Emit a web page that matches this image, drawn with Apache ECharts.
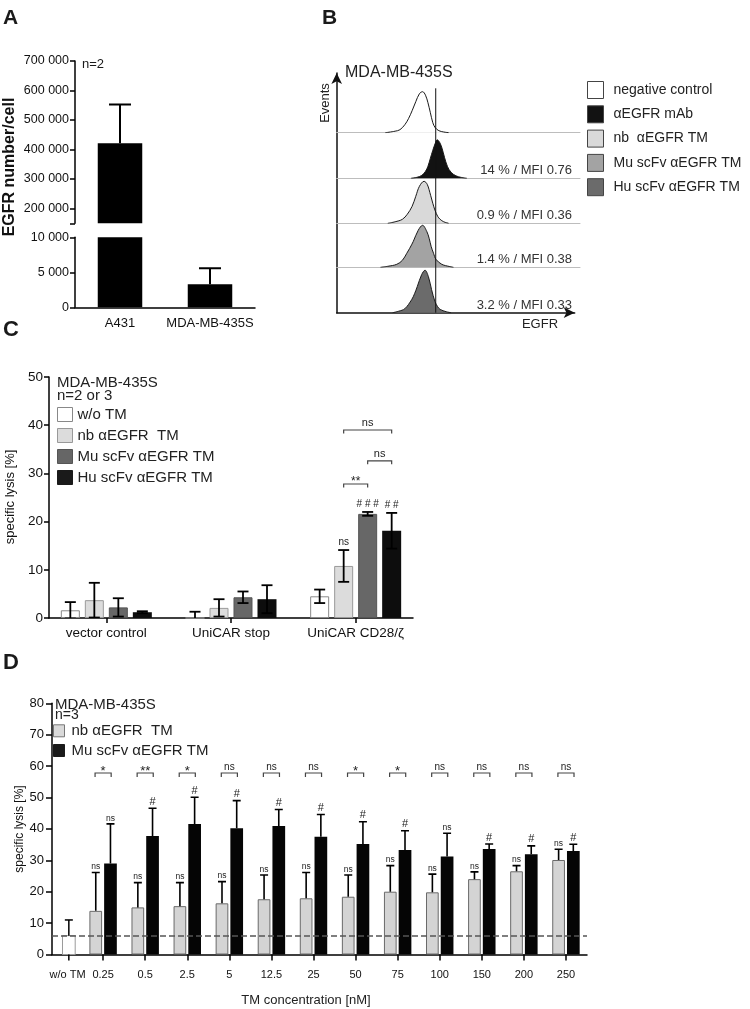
<!DOCTYPE html>
<html><head><meta charset="utf-8">
<script src="https://cdn.jsdelivr.net/npm/echarts@6/dist/echarts.min.js"></script>
<style>html,body{margin:0;padding:0;background:#fff}#c{width:750px;height:1009px}</style>
</head><body><div id="c"></div>
<script>
// ---------------- Panel A data ----------------
const aCells = ['A431', 'MDA-MB-435S'];
const aMean = [421000, 3290];
const aSD = [131500, 2280];
const aUpperTicks = [200000, 300000, 400000, 500000, 600000, 700000];

// ---------------- Panel B data ----------------
const bNames = ['negative control', 'αEGFR mAb', 'nb  αEGFR TM', 'Mu scFv αEGFR TM', 'Hu scFv αEGFR TM'];
const bNeg = [[20,0],[24,1.5],[26,3],[28,8],[29.5,14],[31,22],[32.5,31],[34,39],[35.3,41],[36.5,37.5],[37.5,30],[38.5,20],[39.5,10],[40.5,5],[42,2],[44,0.7],[46,0]];
const bMab = [[30.5,0],[33,1],[35,3],[36.5,7],[37.5,12],[38.5,20],[39.5,28],[40.5,35],[41.3,38.5],[42.3,36],[43.3,30],[44.3,21],[45.5,12],[47,6],[49,2.5],[51,1],[53.5,0]];
const bNb = [[21,0],[24,1.5],[27,4],[29,9],[31,17],[32.5,27],[34,37],[35.9,42],[37.2,39],[38.6,28],[39.5,20],[40.4,13],[41.5,7],[42.5,4],[44,1.5],[46,0]];
const bMu = [[18,0],[21,1],[24.7,3],[27,7],[28.8,14],[30,19],[31.5,26],[33.5,37],[35.3,42],[37,36],[38,29],[38.8,21],[39.8,14],[40.8,8],[43.2,3],[46.5,0.7],[48,0]];
const bHu = [[23,0],[25.5,1.5],[28,4],[30.8,13],[32,19],[33.1,26],[34.9,38],[36.3,42.5],[37.7,36],[39,23],[40.4,11],[41.5,6],[42.5,3.3],[45,1],[47,0]];
const bStats = ['', '14 % / MFI 0.76', '0.9 % / MFI 0.36', '1.4 % / MFI 0.38', '3.2 % / MFI 0.33'];
const bGate = 40.7;

// ---------------- Panel C data ----------------
const cGroups = ['vector control', 'UniCAR stop', 'UniCAR CD28/ζ'];
const cNames = ['w/o TM', 'nb αEGFR  TM', 'Mu scFv αEGFR TM', 'Hu scFv αEGFR TM'];
const cWo = [1.6, 0, 4.5];      const cWoSD = [1.7, 1.3, 1.4];
const cNbV = [3.7, 2.1, 10.8];  const cNbSD = [3.6, 1.8, 3.3];
const cMuV = [2.2, 4.3, 21.6];  const cMuSD = [1.9, 1.2, 0.4];
const cHuV = [1.2, 3.9, 18.1];  const cHuSD = [0.2, 2.9, 3.7];
const cMarks = [[2, 1, 'ns'], [2, 2, '###'], [2, 3, '##']];
const cBrackets = [[2, 1, 2, 27.8, '**'], [2, 2, 3, 32.6, 'ns'], [2, 1, 3, 39.0, 'ns']];

// ---------------- Panel D data ----------------
const dConc = ['w/o TM', '0.25', '0.5', '2.5', '5', '12.5', '25', '50', '75', '100', '150', '200', '250'];
const dWo = [6.0];   const dWoSD = [5.0];
const dNbV = [null, 13.9, 15.0, 15.4, 16.3, 17.6, 17.9, 18.4, 20.0, 19.8, 24.0, 26.5, 30.1];
const dNbSD = [null, 12.2, 7.9, 7.5, 6.9, 7.7, 8.2, 6.9, 8.3, 5.8, 2.3, 1.8, 3.4];
const dMuV = [null, 29.0, 37.7, 41.6, 40.2, 40.9, 37.5, 35.2, 33.3, 31.2, 33.6, 31.9, 33.0];
const dMuSD = [null, 12.6, 8.9, 8.5, 8.8, 5.3, 7.1, 7.1, 6.1, 7.4, 1.6, 2.7, 2.1];
const dNbMarks = ['', 'ns', 'ns', 'ns', 'ns', 'ns', 'ns', 'ns', 'ns', 'ns', 'ns', 'ns', 'ns'];
const dMuMarks = ['', 'ns', '#', '#', '#', '#', '#', '#', '#', 'ns', '#', '#', '#'];
const dPairSig = ['', '*', '**', '*', 'ns', 'ns', 'ns', '*', '*', 'ns', 'ns', 'ns', 'ns'];
const dBracketLevel = 57.8;

// ---------------- helpers ----------------
const FONT = '"Liberation Sans", Arial, Helvetica, sans-serif';
const F = (s, w) => (w ? w + ' ' : '') + s + 'px ' + FONT;
const grids = [], xAxes = [], yAxes = [], series = [], graphics = [];
function addGrid(g, x, y) {
  grids.push(g); const i = grids.length - 1;
  xAxes.push(Object.assign({ gridIndex: i }, x));
  yAxes.push(Object.assign({ gridIndex: i }, y));
  return i;
}
const hiddenVal = (min, max) => ({ type: 'value', min, max, show: false, splitLine: { show: false } });
const hiddenCat = data => ({ type: 'category', data, show: false });
const AX = { color: '#000', width: 1.5 };
const fmtSp = v => String(v).replace(/\B(?=(\d{3})+(?!\d))/g, ' ');
function txt(text, x, y, font, align, valign, rot, fill) {
  graphics.push({ type: 'text', x, y, rotation: rot || 0, silent: true,
    style: { text, font, fill: fill || '#1a1a1a', align: align || 'left', textAlign: align || 'left',
             verticalAlign: valign || 'middle', textVerticalAlign: valign || 'middle' } });
}
function errBar(opt) {
  return function (params, api) {
    const cat = api.value(0), m = api.value(1), sd = api.value(2);
    const pm = api.coord([cat, m]), pt = api.coord([cat, m + sd]), pb = api.coord([cat, m - sd]);
    const x = pm[0] + (opt.offset || 0);
    const st = { stroke: '#000', lineWidth: opt.lw };
    const ch = [
      { type: 'line', shape: { x1: x, y1: pt[1], x2: x, y2: opt.upperOnly ? pm[1] : pb[1] }, style: st },
      { type: 'line', shape: { x1: x - opt.half, y1: pt[1], x2: x + opt.half, y2: pt[1] }, style: st }
    ];
    if (!opt.upperOnly) ch.push({ type: 'line', shape: { x1: x - opt.half, y1: pb[1], x2: x + opt.half, y2: pb[1] }, style: st });
    return { type: 'group', children: ch };
  };
}
function markText(list, slotOff, fontFn, gap) {
  return function (params, api) {
    const it = list[params.dataIndex];
    const p = api.coord([it.cat, it.top]);
    const isStar = it.text.indexOf('*') >= 0;
    const fs = fontFn(it.text);
    return { type: 'text', x: p[0] + slotOff(it.slot), y: p[1] - gap + (isStar ? fs * 0.42 : 0),
      style: { text: it.text.indexOf('#') >= 0 ? it.text.split('').join(' ') : it.text, font: F(fs), fill: '#222',
               align: 'center', textAlign: 'center', verticalAlign: 'bottom', textVerticalAlign: 'bottom' } };
  };
}
function bracketRender(list, slotOff, fontFn, tick, gap, extend) {
  return function (params, api) {
    const b = list[params.dataIndex];
    const p = api.coord([b.cat, b.level]);
    const x1 = p[0] + slotOff(b.from) - extend, x2 = p[0] + slotOff(b.to) + extend, y = p[1];
    const fs = fontFn(b.text);
    const isStar = b.text.indexOf('*') >= 0;
    return { type: 'group', children: [
      { type: 'polyline', shape: { points: [[x1, y + tick], [x1, y], [x2, y], [x2, y + tick]] }, style: { stroke: '#444', lineWidth: 1.2, fill: 'none' } },
      { type: 'text', x: (x1 + x2) / 2, y: y - gap + (isStar ? fs * 0.42 : 0),
        style: { text: b.text, font: F(fs), fill: '#222', align: 'center', textAlign: 'center', verticalAlign: 'bottom', textVerticalAlign: 'bottom' } }
    ] };
  };
}

// ================= Panel A =================
const aTop = addGrid({ left: 75, top: 61, width: 180, height: 162.3 },
  hiddenCat(aCells),
  { type: 'value', min: 150000, max: 700000,
    axisLine: { show: true, lineStyle: AX },
    axisTick: { show: true, length: 5, customValues: [150000].concat(aUpperTicks), lineStyle: AX },
    axisLabel: { customValues: aUpperTicks, formatter: fmtSp, fontSize: 12.5, color: '#111', margin: 6, fontFamily: FONT },
    splitLine: { show: false } });
const aBot = addGrid({ left: 75, top: 237.3, width: 180, height: 70 },
  { type: 'category', data: aCells, axisLine: { lineStyle: AX },
    axisTick: { alignWithLabel: true, length: 6, lineStyle: AX },
    axisLabel: { fontSize: 13, color: '#111', margin: 10, interval: 0, fontFamily: FONT } },
  { type: 'value', min: 0, max: 10000, interval: 5000,
    axisLine: { show: true, lineStyle: AX }, axisTick: { show: true, length: 5, lineStyle: AX },
    axisLabel: { formatter: fmtSp, fontSize: 12.5, color: '#111', margin: 6, fontFamily: FONT },
    splitLine: { show: false } });
[aTop, aBot].forEach(gi => {
  series.push({ type: 'bar', xAxisIndex: gi, yAxisIndex: gi, data: aMean, barWidth: 44.5, itemStyle: { color: '#000' }, clip: true, silent: true, z: 2 });
  series.push({ type: 'custom', xAxisIndex: gi, yAxisIndex: gi, clip: true, silent: true, z: 3, encode: { x: 0, y: 1 },
    data: aMean.map((m, i) => [i, m, aSD[i]]), renderItem: errBar({ half: 11, lw: 2, upperOnly: true }) });
});
txt('A', 3, 18, F(21, 'bold'));
txt('EGFR number/cell', 10, 167, F(16, 'bold'), 'center', 'middle', Math.PI / 2, '#111');
txt('n=2', 82, 64, F(13));

// ================= Panel B =================
const bCurves = [bNeg, bMab, bNb, bMu, bHu];
const bFill = ['#ffffff', '#121212', '#d9d9d9', '#a3a3a3', '#6b6b6b'];
const bBase = [132.7, 178.3, 223.3, 267.3, 312.7];
const bLeft = 336.7, bWidth = 243.3, bStripH = 45;
bCurves.forEach((curve, i) => {
  const gi = addGrid({ left: bLeft, top: bBase[i] - bStripH, width: bWidth, height: bStripH },
    { type: 'value', min: 0, max: 100, axisLine: { show: i < 4, lineStyle: { color: '#bdbdbd', width: 1 } },
      axisTick: { show: false }, axisLabel: { show: false }, splitLine: { show: false } },
    hiddenVal(0, bStripH));
  series.push({ type: 'line', name: bNames[i], xAxisIndex: gi, yAxisIndex: gi, data: curve, smooth: 0.35,
    symbol: 'none', showSymbol: false, silent: true, z: 3,
    lineStyle: { color: '#1a1a1a', width: 1 }, itemStyle: { color: bFill[i] }, areaStyle: { color: bFill[i], opacity: 1 } });
  if (bStats[i]) txt(bStats[i], 572, bBase[i] - 7.5, F(13), 'right', 'middle', 0, '#333');
});
const bAx = addGrid({ left: bLeft, top: 73, width: 238, height: 312.7 - 73 },
  { type: 'value', min: 0, max: 100, axisLine: { show: true, symbol: ['none', 'arrow'], symbolSize: [8, 11], lineStyle: { color: '#111', width: 1.5 } },
    axisTick: { show: false }, axisLabel: { show: false }, splitLine: { show: false } },
  { type: 'value', min: 0, max: 100, axisLine: { show: true, symbol: ['none', 'arrow'], symbolSize: [8, 11], lineStyle: { color: '#111', width: 1.5 } },
    axisTick: { show: false }, axisLabel: { show: false }, splitLine: { show: false } });
const bG = addGrid({ left: bLeft, top: 88.3, width: bWidth, height: 312.7 - 88.3 }, hiddenVal(0, 100), hiddenVal(0, 1));
series.push({ type: 'line', xAxisIndex: bG, yAxisIndex: bG, data: [[bGate, 0], [bGate, 1]], symbol: 'none', silent: true, z: 10,
  lineStyle: { color: '#111', width: 1 } });
txt('B', 322, 18, F(21, 'bold'));
txt('MDA-MB-435S', 345, 73, F(16), 'left', 'middle', 0, '#222');
txt('Events', 325, 103, F(13), 'center', 'middle', Math.PI / 2, '#222');
txt('EGFR', 540, 324, F(13), 'center', 'middle', 0, '#222');

// ================= Panel C =================
const cAx = addGrid({ left: 49, top: 377, width: 364, height: 241 },
  { type: 'category', data: cGroups, axisLine: { lineStyle: AX }, axisTick: { show: false }, axisLabel: { show: false } },
  { type: 'value', min: 0, max: 50, interval: 10, axisLine: { show: true, lineStyle: AX },
    axisTick: { show: true, length: 5, lineStyle: AX },
    axisLabel: { fontSize: 13.5, color: '#111', margin: 6, fontFamily: FONT }, splitLine: { show: false } });
const cBand = addGrid({ left: 44, top: 377, width: 374, height: 241 },
  { type: 'category', data: cGroups, axisLine: { show: false },
    axisTick: { show: true, alignWithLabel: true, length: 5, lineStyle: AX },
    axisLabel: { fontSize: 13.5, color: '#111', margin: 8, interval: 0, fontFamily: FONT } },
  hiddenVal(0, 50));
const cVals = [cWo, cNbV, cMuV, cHuV], cSDs = [cWoSD, cNbSD, cMuSD, cHuSD];
const cStyle = [
  { color: '#ffffff', borderColor: '#8a8a8a', borderWidth: 1 },
  { color: '#dcdcdc', borderColor: '#9a9a9a', borderWidth: 1 },
  { color: '#676767', borderColor: '#555555', borderWidth: 1 },
  { color: '#0d0d0d' }];
const cSlot = s => (s - 1.5) * 24;
cNames.forEach((n, i) => {
  series.push({ type: 'bar', name: n, xAxisIndex: cBand, yAxisIndex: cBand, data: cVals[i], barWidth: 19, barGap: '26.3%',
    itemStyle: cStyle[i], silent: true, z: 2 });
  series.push({ type: 'custom', xAxisIndex: cBand, yAxisIndex: cBand, clip: true, silent: true, z: 4, encode: { x: 0, y: 1 },
    data: cVals[i].map((m, k) => [k, m, cSDs[i][k]]), renderItem: errBar({ offset: cSlot(i), half: 5.5, lw: 1.8 }) });
});
const cMarkList = cMarks.map(([k, s, t]) => ({ cat: k, slot: s, top: cVals[s][k] + cSDs[s][k], text: t }));
series.push({ type: 'custom', xAxisIndex: cBand, yAxisIndex: cBand, silent: true, z: 5, encode: { x: 0, y: 1 },
  data: cMarkList.map(m => [m.cat, m.top]), renderItem: markText(cMarkList, cSlot, t => 10, 2.5) });
const cBrList = cBrackets.map(([k, a, b, lv, t]) => ({ cat: k, from: a, to: b, level: lv, text: t }));
series.push({ type: 'custom', xAxisIndex: cBand, yAxisIndex: cBand, silent: true, z: 5, encode: { x: 0, y: 1 },
  data: cBrList.map(b => [b.cat, b.level]), renderItem: bracketRender(cBrList, cSlot, t => (t.indexOf('*') >= 0 ? 12 : 11), 3.5, 1.5, 0) });
txt('C', 3, 330, F(22, 'bold'));
txt('specific lysis [%]', 10, 497, F(13), 'center', 'middle', Math.PI / 2, '#111');
txt('MDA-MB-435S', 57, 382.5, F(15), 'left', 'middle', 0, '#222');
txt('n=2 or 3', 57, 395.5, F(15), 'left', 'middle', 0, '#222');

// ================= Panel D =================
const dAx = addGrid({ left: 52, top: 703.3, width: 535, height: 251.2 },
  { type: 'category', data: dConc, axisLine: { lineStyle: AX }, axisTick: { show: false }, axisLabel: { show: false } },
  { type: 'value', min: 0, max: 80, interval: 10, axisLine: { show: true, lineStyle: AX },
    axisTick: { show: true, length: 6, lineStyle: AX },
    axisLabel: { fontSize: 13, color: '#111', margin: 8, fontFamily: FONT }, splitLine: { show: false } });
const dBand = addGrid({ left: 40, top: 703.3, width: 547, height: 251.2 },
  { type: 'category', data: dConc, axisLine: { show: false },
    axisTick: { show: true, alignWithLabel: true, length: 6, interval: (idx) => idx > 0, lineStyle: AX },
    axisLabel: { fontSize: 11, color: '#111', margin: 15, interval: 0, fontFamily: FONT,
      formatter: (v, idx) => (idx === 0 ? '{w|' + v + '}' : v),
      rich: { w: { padding: [0, 0, 0, 13], fontSize: 11, color: '#111', fontFamily: FONT } } } },
  hiddenVal(0, 80));
const dSlot = s => (s === 0 ? -7.35 : 7.35);
const dWoOff = 7.8;
// dashed reference line at the w/o TM level
series.push({ type: 'line', xAxisIndex: dAx, yAxisIndex: dAx, data: [], silent: true, z: 6,
  markLine: { silent: true, symbol: ['none', 'none'], label: { show: false },
    lineStyle: { color: '#555', width: 1.5, type: [6, 3] }, data: [{ yAxis: dWo[0] }] } });
// w/o TM bar
series.push({ type: 'custom', name: 'w/o TM (D)', xAxisIndex: dBand, yAxisIndex: dBand, silent: true, z: 3, encode: { x: 0, y: 1 },
  data: dWo.map((m, k) => [k, m, dWoSD[k]]),
  renderItem: function (params, api) {
    const cat = api.value(0), m = api.value(1), sd = api.value(2);
    const pm = api.coord([cat, m]), p0 = api.coord([cat, 0]), pt = api.coord([cat, m + sd]);
    const x = pm[0] + dWoOff, w = 12.7, st = { stroke: '#000', lineWidth: 1.5 };
    return { type: 'group', children: [
      { type: 'rect', shape: { x: x - w / 2, y: pm[1], width: w, height: p0[1] - pm[1] }, style: { fill: '#fff', stroke: '#9a9a9a', lineWidth: 1 } },
      { type: 'line', shape: { x1: x, y1: pt[1], x2: x, y2: pm[1] }, style: st },
      { type: 'line', shape: { x1: x - 4, y1: pt[1], x2: x + 4, y2: pt[1] }, style: st },
      { type: 'line', shape: { x1: x, y1: p0[1], x2: x, y2: p0[1] + 6 }, style: st }
    ] };
  } });
const dNames = ['nb αEGFR  TM', 'Mu scFv αEGFR TM'];
const dVals = [dNbV, dMuV], dSDs = [dNbSD, dMuSD];
const dStyle = [{ color: '#d4d4d4', borderColor: '#6a6a6a', borderWidth: 1 }, { color: '#050505' }];
dNames.forEach((n, i) => {
  series.push({ type: 'bar', name: n, xAxisIndex: dBand, yAxisIndex: dBand, data: dVals[i], barWidth: 12.7, barGap: '16%',
    itemStyle: dStyle[i], silent: true, z: 2 });
  series.push({ type: 'custom', xAxisIndex: dBand, yAxisIndex: dBand, clip: true, silent: true, z: 4, encode: { x: 0, y: 1 },
    data: dVals[i].map((m, k) => [k, m, dSDs[i][k]]).filter(d => d[1] != null),
    renderItem: errBar({ offset: dSlot(i), half: 4, lw: 1.6, upperOnly: true }) });
});
const dMarkList = [];
dConc.forEach((c, k) => {
  if (dNbMarks[k]) dMarkList.push({ cat: k, slot: 0, top: dNbV[k] + dNbSD[k], text: dNbMarks[k] });
  if (dMuMarks[k]) dMarkList.push({ cat: k, slot: 1, top: dMuV[k] + dMuSD[k], text: dMuMarks[k] });
});
series.push({ type: 'custom', xAxisIndex: dBand, yAxisIndex: dBand, silent: true, z: 5, encode: { x: 0, y: 1 },
  data: dMarkList.map(m => [m.cat, m.top]),
  renderItem: markText(dMarkList, dSlot, t => (t === '#' ? 11 : 8.5), 1) });
const dBrList = [];
dConc.forEach((c, k) => { if (dPairSig[k]) dBrList.push({ cat: k, from: 0, to: 1, level: dBracketLevel, text: dPairSig[k] }); });
series.push({ type: 'custom', xAxisIndex: dBand, yAxisIndex: dBand, silent: true, z: 5, encode: { x: 0, y: 1 },
  data: dBrList.map(b => [b.cat, b.level]),
  renderItem: bracketRender(dBrList, dSlot, t => (t.indexOf('*') >= 0 ? 13 : 10), 4, 1, 0.7) });
txt('D', 3, 663, F(22, 'bold'));
txt('specific lysis [%]', 20, 829, F(12), 'center', 'middle', Math.PI / 2, '#111');
txt('MDA-MB-435S', 55, 705, F(15), 'left', 'middle', 0, '#222');
txt('n=3', 55, 715.5, F(14), 'left', 'middle', 0, '#222');
txt('TM concentration [nM]', 306, 1000, F(13), 'center', 'middle', 0, '#222');

// ================= Legends =================
const legB = { left: 587, top: 81, orient: 'vertical', padding: 0, itemWidth: 16, itemHeight: 17, itemGap: 6.3, icon: 'rect', selectedMode: false,
  textStyle: { fontSize: 14, color: '#222', fontFamily: FONT, lineHeight: 17, padding: [0, 0, 0, 5] },
  data: bNames.map((n, i) => ({ name: n, icon: 'rect', itemStyle: { color: bFill[i], borderColor: '#444', borderWidth: 1 } })) };
const cLegFill = ['#ffffff', '#dcdcdc', '#666666', '#1a1a1a'];
const cLegBorder = ['#888', '#999', '#555', '#1a1a1a'];
const legC = { left: 57, top: 407, orient: 'vertical', padding: 0, itemWidth: 15, itemHeight: 14, itemGap: 6, icon: 'rect', selectedMode: false,
  textStyle: { fontSize: 15, color: '#222', fontFamily: FONT, lineHeight: 14 },
  data: cNames.map((n, i) => ({ name: n, icon: 'rect', itemStyle: { color: cLegFill[i], borderColor: cLegBorder[i], borderWidth: 1 } })) };
const dLegFill = ['#d9d9d9', '#1a1a1a'], dLegBorder = ['#777', '#1a1a1a'];
const legD = { left: 53, top: 723.3, orient: 'vertical', padding: 0, itemWidth: 11, itemHeight: 12, itemGap: 4.7, icon: 'rect', selectedMode: false,
  textStyle: { fontSize: 15, color: '#222', fontFamily: FONT, lineHeight: 12, padding: [0, 0, 0, 2] },
  data: dNames.map((n, i) => ({ name: n, icon: 'rect', itemStyle: { color: dLegFill[i], borderColor: dLegBorder[i], borderWidth: 1 } })) };

const chart = echarts.init(document.getElementById('c'), null, { renderer: 'canvas', width: 750, height: 1009 });
chart.setOption({
  animation: false,
  backgroundColor: '#ffffff',
  textStyle: { fontFamily: FONT },
  grid: grids, xAxis: xAxes, yAxis: yAxes,
  legend: [legB, legC, legD],
  series: series,
  graphic: { elements: graphics }
});
</script>
</body></html>
